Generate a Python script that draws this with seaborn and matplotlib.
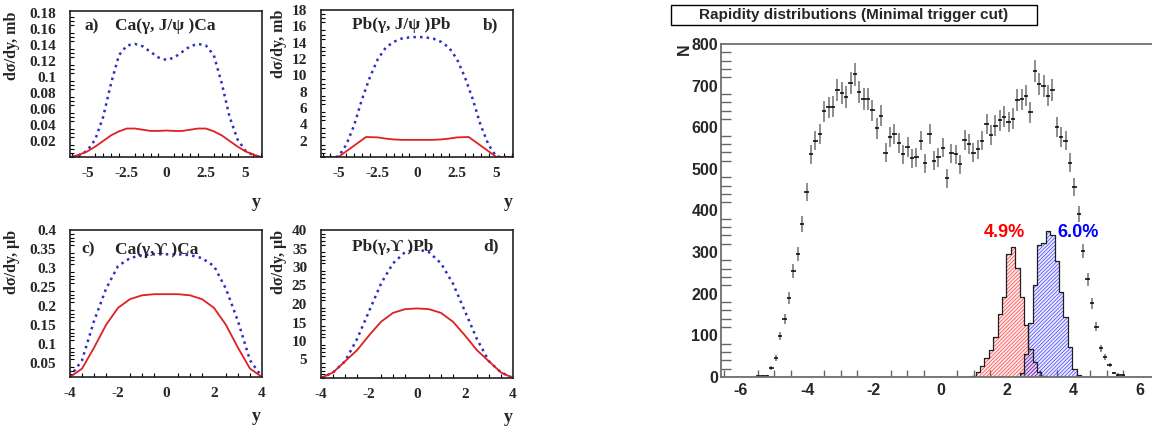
import numpy as np
import pandas as pd
import matplotlib
matplotlib.use("Agg")
import matplotlib.pyplot as plt
from matplotlib.patches import Rectangle
from matplotlib.ticker import AutoMinorLocator
import seaborn as sns

# ---- left panels: dsigma/dy curves (blue dotted / red solid) ----
y_a = [-6.0, -5.5, -5.0, -4.5, -4.0, -3.5, -3.0, -2.5, -2.0, -1.5, -1.0, -0.5, 0.0,
       0.5, 1.0, 1.5, 2.0, 2.5, 3.0, 3.5, 4.0, 4.5, 5.0, 5.5, 6.0]
a_blue = [0.0, 0.002, 0.008, 0.022, 0.050, 0.092, 0.127, 0.139, 0.141, 0.138, 0.131, 0.124, 0.121,
          0.124, 0.131, 0.138, 0.141, 0.139, 0.127, 0.092, 0.050, 0.022, 0.008, 0.002, 0.0]
a_red = [0.0, 0.003, 0.007, 0.013, 0.020, 0.027, 0.032, 0.0355, 0.0355, 0.034, 0.0325, 0.0325, 0.033,
         0.0325, 0.0325, 0.034, 0.0355, 0.0355, 0.032, 0.027, 0.020, 0.013, 0.007, 0.003, 0.0]

b_blue = [0.0, 0.0, 0.05, 1.5, 3.9, 7.1, 9.8, 12.0, 13.4, 14.1, 14.5, 14.65, 14.7,
          14.65, 14.5, 14.1, 13.4, 12.0, 9.8, 7.1, 3.9, 1.5, 0.05, 0.0, 0.0]
y_b_red = [-6.0, -5.0, -3.25, -2.5, -2.0, -1.5, -1.0, 0.0, 1.0, 1.5, 2.0, 2.5, 3.25, 5.0, 6.0]
b_red = [0.0, 0.0, 2.45, 2.4, 2.25, 2.15, 2.1, 2.1, 2.1, 2.15, 2.25, 2.4, 2.45, 0.0, 0.0]

y_c = [-4.0, -3.5, -3.0, -2.5, -2.0, -1.5, -1.0, -0.5, 0.0, 0.5, 1.0, 1.5, 2.0, 2.5, 3.0, 3.5, 4.0]
c_blue = [0.013, 0.057, 0.16, 0.245, 0.305, 0.326, 0.334, 0.336, 0.336, 0.336, 0.334, 0.326, 0.305, 0.245, 0.16, 0.057, 0.013]
c_red = [0.013, 0.035, 0.09, 0.15, 0.195, 0.218, 0.228, 0.231, 0.231, 0.231, 0.228, 0.218, 0.195, 0.15, 0.09, 0.035, 0.013]

d_blue = [0.0, 1.5, 4.5, 10.5, 18.0, 25.5, 31.0, 34.0, 34.8, 34.0, 31.0, 25.5, 18.0, 10.5, 4.5, 1.5, 0.0]
d_red = [0.0, 1.5, 4.5, 7.5, 11.5, 15.2, 17.6, 18.6, 18.8, 18.6, 17.6, 15.2, 11.5, 7.5, 4.5, 1.5, 0.0]

# ---- right panel: rapidity distribution, 100 bins from -6.6 to 6.6 ----
rap_counts = [0, 0, 0, 0, 0, 0, 0, 0,
              2, 3, 3, 22,
              45, 98, 139, 190, 255, 295, 367, 444,
              535, 568, 584, 638, 648, 649, 690, 682, 673, 706,
              727, 685, 668, 668, 641, 597, 628, 539, 577, 584,
              563, 535, 553, 525, 528, 568, 513, 584, 519, 528,
              551, 477, 537, 535, 511, 569, 560, 539, 547, 568,
              608, 581, 604, 617, 625, 613, 621, 665, 667, 676,
              636, 735, 704, 699, 676, 689, 601, 577, 568, 515,
              456, 391, 303, 235, 177, 121, 69, 49, 29, 10,
              6, 4, 0, 0, 0, 0, 0, 0, 0, 0]
red_first = 57
red_counts = [3, 13, 27, 45, 65, 97, 151, 193, 295, 313, 262, 193, 125, 68, 37, 13, 3]
blue_first = 68
blue_counts = [10, 55, 130, 220, 317, 321, 350, 340, 278, 205, 143, 72, 20, 6]
red_label = "4.9%"
blue_label = "6.0%"

BLUE = "#2e2ec4"
RED = "#e02020"

sns.set_theme(style="white")
plt.rcParams["font.family"] = ["Liberation Serif", "DejaVu Serif"]
plt.rcParams["xtick.direction"] = "in"
plt.rcParams["ytick.direction"] = "in"
plt.rcParams["hatch.linewidth"] = 0.45

fig = plt.figure(figsize=(11.52, 4.28), dpi=100)
W, H = 1152.0, 428.0


def px_axes(left, top, right, bottom):
    return fig.add_axes([left / W, 1 - bottom / H, (right - left) / W, (bottom - top) / H])


def style_left(ax, xlim, ylim, xticks, xlabels, yticks, ylabels, xminor, yminor, ylab, lab_x):
    ax.set_xlim(*xlim)
    ax.set_ylim(*ylim)
    ax.set_xticks(xticks, xlabels)
    ax.set_yticks(yticks, ylabels)
    ax.xaxis.set_minor_locator(AutoMinorLocator(xminor))
    ax.yaxis.set_minor_locator(AutoMinorLocator(yminor))
    ax.tick_params(which="major", length=6, width=1, color="black", pad=10)
    ax.tick_params(which="minor", length=3, width=0.8, color="black", bottom=True, left=True)
    ax.tick_params(axis="x", pad=7)
    for lab in ax.get_xticklabels() + ax.get_yticklabels():
        lab.set_fontweight("bold")
        lab.set_fontsize(11)
    for s in ax.spines.values():
        s.set_color("#222222")
        s.set_linewidth(1.2)
    ax.set_xlabel("")
    ax.set_ylabel("")
    ax.text(lab_x, 1.0, ylab, rotation=90, ha="center", va="top", transform=ax.transAxes,
            fontsize=11.5, fontweight="bold")


def curves(ax, xb, yb, xr, yr):
    sns.lineplot(x=xb, y=yb, ax=ax, color=BLUE, linestyle=":", linewidth=1.8)
    sns.lineplot(x=xr, y=yr, ax=ax, color=RED, linewidth=1.3)


TS = 12.5  # panel title size

# panel a
ax_a = px_axes(70, 11, 262, 157)
curves(ax_a, y_a, a_blue, y_a, a_red)
style_left(ax_a, (-6.1, 6.05), (0, 0.182), [-5, -2.5, 0, 2.5, 5], ["-5", "-2.5", "0", "2.5", "5"],
           [0.02, 0.04, 0.06, 0.08, 0.1, 0.12, 0.14, 0.16, 0.18],
           ["0.02", "0.04", "0.06", "0.08", "0.1", "0.12", "0.14", "0.16", "0.18"], 5, 4, "dσ/dy, mb", -0.30)
ax_a.text(0.078, 0.896, "a)", transform=ax_a.transAxes, fontsize=TS, fontweight="bold", va="center")
ax_a.text(0.234, 0.896, "Ca(γ, J/ψ )Ca", transform=ax_a.transAxes, fontsize=TS, fontweight="bold", va="center")
ax_a.text(0.97, -0.31, "y", transform=ax_a.transAxes, fontsize=13, fontweight="bold", ha="center", va="center")

# panel b
ax_b = px_axes(321, 10, 513, 157)
curves(ax_b, y_a, b_blue, y_b_red, b_red)
style_left(ax_b, (-6.1, 6.05), (0, 18), [-5, -2.5, 0, 2.5, 5], ["-5", "-2.5", "0", "2.5", "5"],
           [2, 4, 6, 8, 10, 12, 14, 16, 18], ["2", "4", "6", "8", "10", "12", "14", "16", "18"],
           5, 4, "dσ/dy, mb", -0.22)
ax_b.text(0.16, 0.896, "Pb(γ, J/ψ )Pb", transform=ax_b.transAxes, fontsize=TS, fontweight="bold", va="center")
ax_b.text(0.845, 0.896, "b)", transform=ax_b.transAxes, fontsize=TS, fontweight="bold", va="center")
ax_b.text(0.974, -0.31, "y", transform=ax_b.transAxes, fontsize=13, fontweight="bold", ha="center", va="center")

# panel c
ax_c = px_axes(70, 230, 262, 377)
curves(ax_c, y_c, c_blue, y_c, c_red)
style_left(ax_c, (-4, 4), (0.013, 0.4), [-4, -2, 0, 2, 4], ["-4", "-2", "0", "2", "4"],
           [0.05, 0.1, 0.15, 0.2, 0.25, 0.3, 0.35, 0.4],
           ["0.05", "0.1", "0.15", "0.2", "0.25", "0.3", "0.35", "0.4"], 4, 5, "dσ/dy, μb", -0.30)
ax_c.text(0.06, 0.865, "c)", transform=ax_c.transAxes, fontsize=TS, fontweight="bold", va="center")
ax_c.text(0.234, 0.865, "Ca(γ,ϒ )Ca", transform=ax_c.transAxes, fontsize=TS, fontweight="bold", va="center",
          family=["Liberation Serif", "DejaVu Serif"])
ax_c.text(0.97, -0.27, "y", transform=ax_c.transAxes, fontsize=13, fontweight="bold", ha="center", va="center")

# panel d
ax_d = px_axes(321, 230, 513, 378)
curves(ax_d, y_c, d_blue, y_c, d_red)
style_left(ax_d, (-4, 4), (0, 40), [-4, -2, 0, 2, 4], ["-4", "-2", "0", "2", "4"],
           [5, 10, 15, 20, 25, 30, 35, 40], ["5", "10", "15", "20", "25", "30", "35", "40"],
           4, 5, "dσ/dy, μb", -0.22)
ax_d.text(0.16, 0.887, "Pb(γ,ϒ )Pb", transform=ax_d.transAxes, fontsize=TS, fontweight="bold", va="center",
          family=["Liberation Serif", "DejaVu Serif"])
ax_d.text(0.845, 0.887, "d)", transform=ax_d.transAxes, fontsize=TS, fontweight="bold", va="center")
ax_d.text(0.974, -0.27, "y", transform=ax_d.transAxes, fontsize=13, fontweight="bold", ha="center", va="center")

# ---- right panel ----
edges = np.linspace(-6.6, 6.6, 101)
centers = 0.5 * (edges[:-1] + edges[1:])
counts = np.array(rap_counts, dtype=float)

red_full = np.zeros(100)
red_full[red_first:red_first + len(red_counts)] = red_counts
blue_full = np.zeros(100)
blue_full[blue_first:blue_first + len(blue_counts)] = blue_counts
hist_df = pd.DataFrame({"y": centers, "red": red_full, "blue": blue_full})

ax_r = px_axes(721, 44, 1160, 377)

plt.rcParams["hatch.color"] = "#ff5a5a"
sns.histplot(data=hist_df, x="y", weights="red", bins=100, binrange=(-6.6, 6.6), element="step",
             fill=True, color="#ff3030", alpha=0.10, hatch="/" * 9, linewidth=0, ax=ax_r)
plt.rcParams["hatch.color"] = "#4a4aff"
sns.histplot(data=hist_df, x="y", weights="blue", bins=100, binrange=(-6.6, 6.6), element="step",
             fill=True, color="#3030ff", alpha=0.10, hatch="/" * 9, linewidth=0, ax=ax_r)
sns.histplot(data=hist_df, x="y", weights="red", bins=100, binrange=(-6.6, 6.6), element="step",
             fill=False, color="#202020", linewidth=0.9, ax=ax_r)
sns.histplot(data=hist_df, x="y", weights="blue", bins=100, binrange=(-6.6, 6.6), element="step",
             fill=False, color="#202020", linewidth=0.9, ax=ax_r)

mask = counts > 0
ax_r.errorbar(centers[mask], counts[mask], yerr=np.sqrt(counts[mask]), fmt="none",
              ecolor="#707070", elinewidth=1.1, capsize=0)
ax_r.errorbar(centers[mask], counts[mask], xerr=0.066, fmt="none",
              ecolor="#000000", elinewidth=1.1, capsize=0)

ax_r.set_xlim(-6.6, 6.6)
ax_r.set_ylim(0, 800)
ax_r.set_xticks([-6, -4, -2, 0, 2, 4, 6], ["-6", "-4", "-2", "0", "2", "4", "6"])
ax_r.set_yticks([0, 100, 200, 300, 400, 500, 600, 700, 800],
                ["0", "100", "200", "300", "400", "500", "600", "700", "800"])
ax_r.xaxis.set_minor_locator(AutoMinorLocator(4))
ax_r.yaxis.set_minor_locator(AutoMinorLocator(5))
ax_r.tick_params(axis="y", which="major", length=14, width=1.2, color="#666666", pad=2)
ax_r.tick_params(axis="y", which="minor", length=7, width=1.0, color="#666666", left=True)
ax_r.tick_params(axis="x", which="major", length=9, width=1.2, color="#666666", pad=4)
ax_r.tick_params(axis="x", which="minor", length=5, width=1.0, color="#666666", bottom=True)
for lab in ax_r.get_xticklabels() + ax_r.get_yticklabels():
    lab.set_fontweight("bold")
    lab.set_fontsize(11.5)
    lab.set_family(["Liberation Sans", "DejaVu Sans"])
for s in ax_r.spines.values():
    s.set_color("#707070")
    s.set_linewidth(1.3)
ax_r.set_xlabel("")
ax_r.set_ylabel("")
ax_r.text(-0.084, 0.985, "N", rotation=90, ha="center", va="center", transform=ax_r.transAxes,
          fontsize=11.5, fontweight="bold", family=["Liberation Sans", "DejaVu Sans"])
ax_r.text(1.92, 348, red_label, color="#ff0000", ha="center", va="center", fontsize=13,
          fontweight="bold", family=["Liberation Sans", "DejaVu Sans"])
ax_r.text(4.15, 348, blue_label, color="#0000ff", ha="center", va="center", fontsize=13,
          fontweight="bold", family=["Liberation Sans", "DejaVu Sans"])

fig.add_artist(Rectangle((671 / W, 1 - 25 / H), 366 / W, 20 / H, transform=fig.transFigure,
                         fill=False, edgecolor="black", linewidth=1.0))
fig.text(854 / W, 1 - 15 / H, "Rapidity distributions (Minimal trigger cut)", ha="center", va="center",
         fontsize=11, fontweight="bold", family=["Liberation Sans", "DejaVu Sans"])

fig.savefig("out.png", dpi=100)
